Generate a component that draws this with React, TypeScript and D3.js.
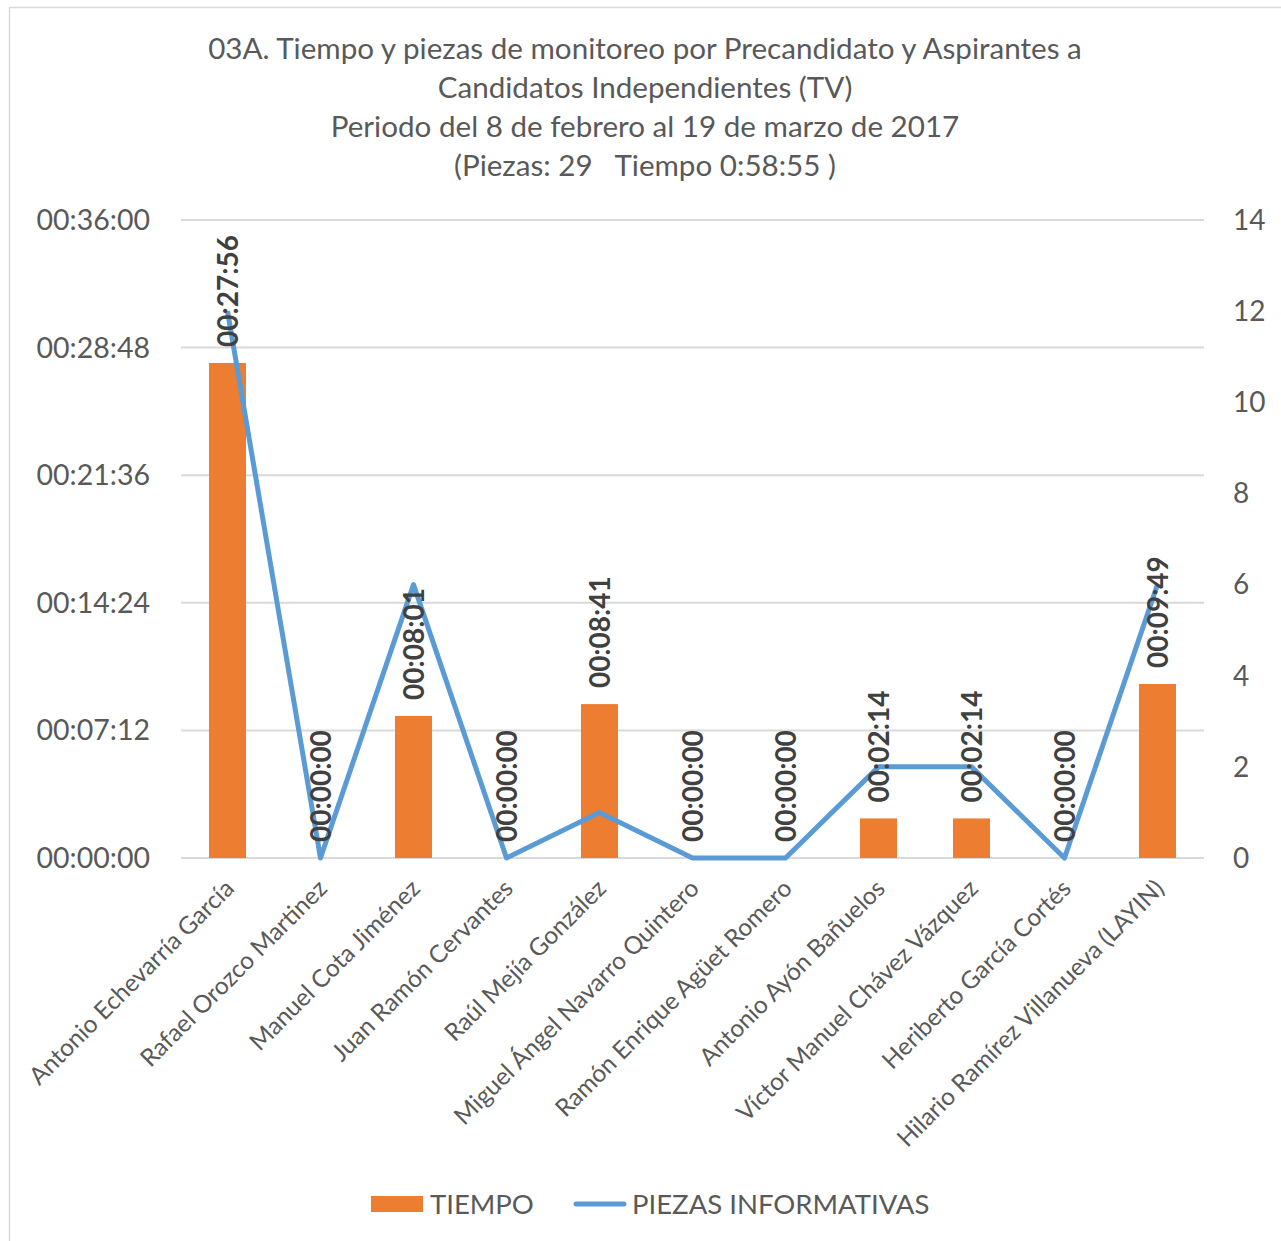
import React from "react";
import * as d3 from "d3";

const categories = [
  "Antonio Echevarría García",
  "Rafael Orozco Martinez",
  "Manuel Cota Jiménez",
  "Juan Ramón Cervantes",
  "Raúl Mejía González",
  "Miguel Ángel Navarro Quintero",
  "Ramón Enrique Agüet Romero",
  "Antonio Ayón Bañuelos",
  "Víctor Manuel Chávez Vázquez",
  "Heriberto García Cortés",
  "Hilario Ramírez Villanueva (LAYIN)",
];
const tiempo = [
  "00:27:56", "00:00:00", "00:08:01", "00:00:00", "00:08:41", "00:00:00",
  "00:00:00", "00:02:14", "00:02:14", "00:00:00", "00:09:49",
];
const piezas = [12, 0, 6, 0, 1, 0, 0, 2, 2, 0, 6];
const leftTicks = [0, 432, 864, 1296, 1728, 2160];
const rightTicks = [0, 2, 4, 6, 8, 10, 12, 14];
const titleLines = [
  "03A. Tiempo y piezas de monitoreo por Precandidato y Aspirantes a",
  "Candidatos Independientes (TV)",
  "Periodo del 8 de febrero al 19 de marzo de 2017",
  "(Piezas: 29   Tiempo 0:58:55 )",
];

const toSec = (s: string) => {
  const [h, m, sec] = s.split(":").map(Number);
  return h * 3600 + m * 60 + sec;
};
const fmt = (t: number) => {
  const h = Math.floor(t / 3600);
  const m = Math.floor((t % 3600) / 60);
  const s = t % 60;
  const p = (n: number) => String(n).padStart(2, "0");
  return `${p(h)}:${p(m)}:${p(s)}`;
};

const FONT = "Lato, 'Open Sans', sans-serif";
const TXT = "#595959";

export default function App() {
  const W = 1281, H = 1241;
  const left = 181, right = 1204, top = 220, bottom = 858;
  const x = d3.scaleBand<string>().domain(categories).range([left, right]).paddingInner(0.6).paddingOuter(0.3);
  const xc = (c: string) => (x(c) as number) + x.bandwidth() / 2;
  const yL = d3.scaleLinear().domain([0, 2160]).range([bottom, top]);
  const yR = d3.scaleLinear().domain([0, 14]).range([bottom, top]);
  const line = d3.line<number>().x((_, i) => xc(categories[i])).y((d) => yR(d));
  const bw = 37;

  return (
    <svg width={W} height={H} style={{ position: "absolute", left: 0, top: 0, background: "#fff" }} fontFamily={FONT}>
      <rect x={9.5} y={7.5} width={1300} height={1300} fill="#fff" stroke="#d9d9d9" strokeWidth={1.5} />
      {titleLines.map((t, i) => (
        <text key={i} x={645} y={59 + i * 39} textAnchor="middle" fontSize={29.6} fill={TXT} style={{ whiteSpace: "pre" }}>{t}</text>
      ))}
      {leftTicks.map((t) => (
        <line key={t} x1={left} x2={right} y1={yL(t)} y2={yL(t)} stroke="#d9d9d9" strokeWidth={2} />
      ))}
      {leftTicks.map((t) => (
        <text key={"l" + t} x={150} y={yL(t)} dy="0.35em" textAnchor="end" fontSize={28.5} fill={TXT}>{fmt(t)}</text>
      ))}
      {rightTicks.map((t) => (
        <text key={"r" + t} x={1233} y={yR(t)} dy="0.35em" textAnchor="start" fontSize={28} fill={TXT}>{t}</text>
      ))}
      {categories.map((c, i) => {
        const v = toSec(tiempo[i]);
        const cx = xc(c);
        return (
          <rect key={c} x={cx - bw / 2} y={yL(v)} width={bw} height={yL(0) - yL(v)} fill="#ED7D31" />
        );
      })}
      <path d={line(piezas) || ""} fill="none" stroke="#5B9BD5" strokeWidth={5} strokeLinejoin="round" />
      {categories.map((c, i) => {
        const v = toSec(tiempo[i]);
        const cx = xc(c);
        const yy = yL(v) - 16;
        return (
          <text key={"d" + c} transform={`translate(${cx},${yy}) rotate(-90)`} dy="0.36em" fontSize={28} fontWeight="bold" fill="#404040">{tiempo[i]}</text>
        );
      })}
      {categories.map((c) => {
        const cx = xc(c);
        return (
          <text key={"x" + c} transform={`translate(${cx + 2},${884}) rotate(-45)`} textAnchor="end" dy="0.35em" fontSize={24.4} fill={TXT}>{c}</text>
        );
      })}
      <rect x={371} y={1196} width={52} height={16} fill="#ED7D31" />
      <text x={430} y={1204} dy="0.35em" fontSize={27.5} fill={TXT}>TIEMPO</text>
      <line x1={576} x2={624} y1={1204} y2={1204} stroke="#5B9BD5" strokeWidth={5} strokeLinecap="round" />
      <text x={632} y={1204} dy="0.35em" fontSize={27.5} fill={TXT}>PIEZAS INFORMATIVAS</text>
    </svg>
  );
}
